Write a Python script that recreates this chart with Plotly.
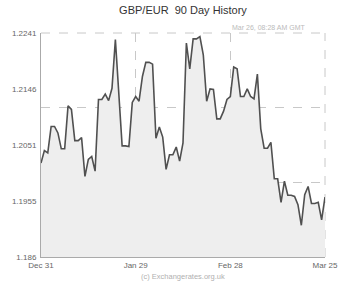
import plotly.graph_objects as go

values = [1.2020, 1.2041, 1.2037, 1.2082, 1.2082, 1.2071, 1.2044, 1.2044, 1.2117, 1.2111,
          1.2058, 1.2058, 1.2063, 1.1997, 1.2026, 1.2031, 1.2006, 1.2128, 1.2128, 1.2137,
          1.2126, 1.2147, 1.2230, 1.2139, 1.2049, 1.2049, 1.2048, 1.2123, 1.2133, 1.2125,
          1.2167, 1.2191, 1.2191, 1.2188, 1.2062, 1.2081, 1.2064, 1.2009, 1.2034, 1.2034,
          1.2047, 1.2023, 1.2054, 1.2224, 1.2180, 1.2231, 1.2231, 1.2235, 1.2204, 1.2125,
          1.2146, 1.2145, 1.2095, 1.2095, 1.2108, 1.2128, 1.2133, 1.2183, 1.2180, 1.2133,
          1.2133, 1.2146, 1.2133, 1.2129, 1.2171, 1.2078, 1.2045, 1.2045, 1.2055, 1.1993,
          1.1993, 1.1953, 1.1989, 1.1965, 1.1965, 1.1963, 1.1949, 1.1914, 1.1966, 1.1980,
          1.1951, 1.1951, 1.1953, 1.1923, 1.1962]
days = list(range(len(values)))

x_tick_pos = [0, 28, 56, 84]
x_tick_text = ["Dec 31", "Jan 29", "Feb 28", "Mar 25"]
y_ticks = [1.186, 1.1955, 1.2051, 1.2146, 1.2241]
y_tick_text = ["1.186", "1.1955", "1.2051", "1.2146", "1.2241"]
y_min, y_max = 1.186, 1.2241
y_grid = [y_min + (y_max - y_min) * f for f in (1 / 3, 2 / 3)]

grid_color = "#c8c8c8"
fig = go.Figure()
fig.add_trace(go.Scatter(
    x=days, y=values, mode="lines",
    line=dict(color="#505050", width=1.6),
    fill="tozeroy", fillcolor="#eeeeee",
    hoverinfo="skip", showlegend=False,
))

font = "Liberation Sans, Arial, sans-serif"
fig.update_layout(
    width=350, height=283,
    margin=dict(l=28, r=13, t=33, b=26),
    paper_bgcolor="white", plot_bgcolor="white",
    font=dict(family=font, color="#666666", size=8),
    title=dict(text="GBP/EUR\u00a0\u00a090 Day History", x=0.5, xref="paper",
               y=1 - 10 / 283, yanchor="middle",
               font=dict(size=11, color="#333333", family=font)),
    xaxis=dict(
        range=[0, days[-1]], tickmode="array", tickvals=x_tick_pos, ticktext=x_tick_text,
        showgrid=True, gridcolor=grid_color, griddash="dash", gridwidth=1,
        showline=True, linecolor="#aaaaaa", linewidth=1, ticks="", zeroline=False,
        tickfont=dict(size=8, color="#666666"), fixedrange=True,
    ),
    yaxis=dict(
        range=[y_min, y_max], tickmode="array", tickvals=y_ticks, ticktext=y_tick_text,
        showgrid=False, showline=True, linecolor="#aaaaaa", linewidth=1, ticks="",
        zeroline=False, tickfont=dict(size=8, color="#666666"), ticklabelstandoff=2,
        minor=dict(tickmode="array", tickvals=y_grid, showgrid=True,
                   gridcolor=grid_color, griddash="dash", gridwidth=1, ticks=""),
    ),
    shapes=[
        dict(type="line", xref="x domain", yref="y domain", x0=0, x1=1, y0=1, y1=1,
             line=dict(color=grid_color, width=1, dash="dash"), layer="below"),
        dict(type="line", xref="x domain", yref="y domain", x0=1, x1=1, y0=0, y1=1,
             line=dict(color=grid_color, width=1, dash="dash"), layer="below"),
    ],
    annotations=[
        dict(text="Mar 26, 08:28 AM GMT", xref="paper", yref="paper",
             x=(275 - 28) / 309, y=1 + 6 / 224, showarrow=False,
             xanchor="center", yanchor="middle",
             font=dict(size=7, color="#bbbbbb", family=font)),
        dict(text="(c) Exchangerates.org.uk", xref="paper", yref="paper",
             x=0.5, y=-(276 - 257) / 224, showarrow=False,
             xanchor="center", yanchor="middle",
             font=dict(size=7.5, color="#b0b0b0", family=font)),
    ],
)

fig.write_html("out.html")
